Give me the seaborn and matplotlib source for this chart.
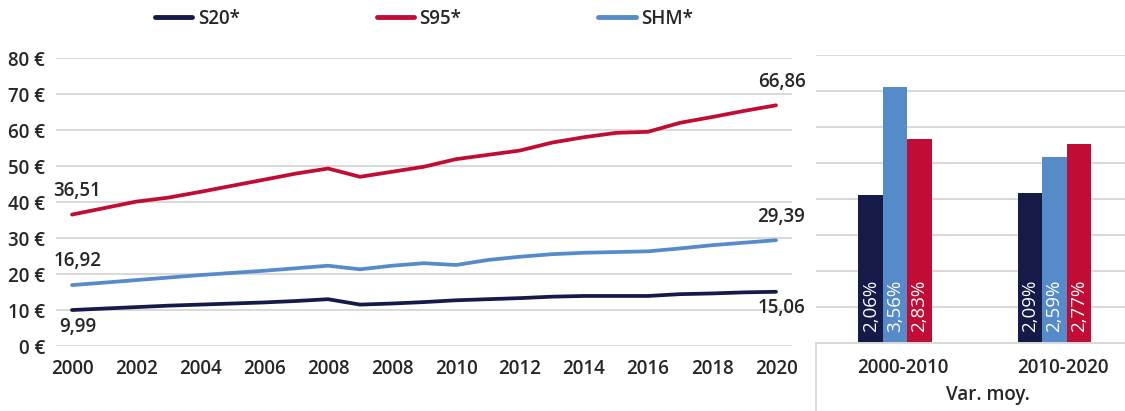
import numpy as np
import pandas as pd
import matplotlib
matplotlib.use('Agg')
import matplotlib.pyplot as plt
import seaborn as sns
from matplotlib.ticker import FuncFormatter, FixedLocator
from matplotlib.transforms import ScaledTranslation

# --- Données -----------------------------------------------------------------
# Série ancienne 2000-2009 puis nouvelle série 2008-2020 (rupture en 2008)
categories = ['2000', '2001', '2002', '2003', '2004', '2005', '2006', '2007',
              '2008', '2009', '2008', '2009', '2010', '2011', '2012', '2013',
              '2014', '2015', '2016', '2017', '2018', '2019', '2020']
s20 = [9.99, 10.4, 10.8, 11.2, 11.5, 11.8, 12.1, 12.5, 13.0, 11.5, 11.8, 12.2,
       12.7, 13.0, 13.3, 13.7, 13.9, 13.9, 13.9, 14.4, 14.6, 14.9, 15.06]
s95 = [36.51, 38.3, 40.1, 41.2, 42.8, 44.5, 46.2, 47.9, 49.3, 47.0, 48.4, 49.8,
       51.9, 53.1, 54.3, 56.5, 58.0, 59.2, 59.5, 62.0, 63.6, 65.3, 66.86]
shm = [16.92, 17.6, 18.3, 19.0, 19.7, 20.3, 20.9, 21.6, 22.3, 21.3, 22.3, 23.0,
       22.5, 23.9, 24.8, 25.5, 25.9, 26.1, 26.3, 27.1, 28.0, 28.7, 29.39]

periodes = ['2000-2010', '2010-2020']
var_s20 = [2.06, 2.09]
var_shm = [3.56, 2.59]
var_s95 = [2.83, 2.77]

couleurs = {'S20*': '#151a48', 'S95*': '#c10d35', 'SHM*': '#568bca'}
GRIS = '#d9d9d9'
TXT = '#262626'

sns.set_style('white')
plt.rcParams['font.family'] = ['Open Sans', 'DejaVu Sans']

fig = plt.figure(figsize=(11.25, 4.11), dpi=100)
ax = fig.add_axes([56 / 1125, 65 / 411, 736 / 1125, 288 / 411])
ax2 = fig.add_axes([815.5 / 1125, 68 / 411, 318.5 / 1125, 288 / 411])

# --- Graphique 1 : évolution en euros -----------------------------------------
df_lignes = pd.DataFrame({'pos': np.arange(len(categories)),
                          'S20*': s20, 'S95*': s95, 'SHM*': shm})
df_lignes = df_lignes.melt(id_vars='pos', var_name='serie', value_name='valeur')

sns.lineplot(data=df_lignes, x='pos', y='valeur', hue='serie',
             hue_order=['S20*', 'S95*', 'SHM*'], palette=couleurs,
             linewidth=2.7, solid_capstyle='round', ax=ax)
handles, labels = ax.get_legend_handles_labels()
ax.get_legend().remove()

ax.set_xlim(-0.5, len(categories) - 0.5)
ax.set_ylim(0, 80)
ax.yaxis.set_major_locator(FixedLocator(np.arange(0, 81, 10)))
ax.yaxis.set_major_formatter(FuncFormatter(lambda v, p: f"{int(v)} €"))
ax.set_xticks(np.arange(len(categories))[::2])
ax.set_xticklabels(categories[::2])
ax.grid(axis='y', color=GRIS, linewidth=1.4)
ax.set_axisbelow(True)
for s in ax.spines.values():
    s.set_visible(False)
ax.tick_params(length=0, labelsize=13.5, labelcolor=TXT)
ax.tick_params(axis='x', pad=9)
ax.tick_params(axis='y', pad=8)
for lbl in ax.get_xticklabels() + ax.get_yticklabels():
    lbl.set_fontweight('semibold')
ax.set_xlabel('')
ax.set_ylabel('')

# étiquettes début / fin de série
for serie, vals in [('S20*', s20), ('S95*', s95), ('SHM*', shm)]:
    dy = -12 if serie == 'S20*' else 17
    for i in [0, len(vals) - 1]:
        ax.annotate(f"{vals[i]:.2f}".replace('.', ','), xy=(i, vals[i]),
                    xytext=(4, dy), textcoords='offset points',
                    ha='center', va='center', fontsize=13.5,
                    fontweight='semibold', color=TXT)

leg = fig.legend(handles, labels, loc='center',
                 bbox_to_anchor=(424 / 1125, 1 - 19 / 411),
                 ncol=3, frameon=False, handlelength=2.0,
                 handletextpad=0.3, columnspacing=7.3,
                 prop={'weight': 'semibold', 'size': 13.5})
for h in leg.get_lines():
    h.set_linewidth(3.5)

# --- Graphique 2 : variation moyenne annuelle -----------------------------------
df_barres = pd.DataFrame({'periode': periodes, 'S20*': var_s20,
                          'SHM*': var_shm, 'S95*': var_s95})
df_barres = df_barres.melt(id_vars='periode', var_name='serie', value_name='var')

ordre_barres = ['S20*', 'SHM*', 'S95*']
sns.barplot(data=df_barres, x='periode', y='var', hue='serie',
            hue_order=ordre_barres, palette=couleurs, saturation=1,
            width=0.46, gap=0, linewidth=0, legend=False, ax=ax2)

for cont in ax2.containers:
    for patch in cont:
        h = patch.get_height()
        ax2.annotate(f"{h:.2f}%".replace('.', ','),
                     xy=(patch.get_x() + patch.get_width() / 2, 0),
                     xytext=(0, 8), textcoords='offset points',
                     rotation=90, ha='center', va='bottom',
                     fontsize=13.5, color='white')

ax2.set_xlim(-0.5, 1.5)
ax2.set_ylim(0, 4)
ax2.yaxis.set_major_locator(FixedLocator(np.arange(0, 4.01, 0.5)))
ax2.grid(axis='y', color=GRIS, linewidth=1.4)
ax2.set_axisbelow(True)
for s in ax2.spines.values():
    s.set_visible(False)
ax2.spines['bottom'].set_visible(True)
ax2.spines['bottom'].set_color(GRIS)
ax2.spines['bottom'].set_linewidth(1.4)
ax2.tick_params(length=0, labelsize=13.5, labelcolor=TXT)
ax2.tick_params(axis='x', pad=11)
ax2.set_yticklabels([])
ax2.set_ylabel('')
decal = ScaledTranslation(8 / 100, 0, fig.dpi_scale_trans)
for lbl in ax2.get_xticklabels():
    lbl.set_fontweight('semibold')
    lbl.set_transform(lbl.get_transform() + decal)
ax2.set_xlabel('Var. moy.', fontsize=13.5, fontweight='semibold', color=TXT, va='center')
ax2.xaxis.set_label_coords((988 - 815.5) / 318.5, -52 / 288)
ax2.plot([0, 0], [0, -0.3], transform=ax2.transAxes, clip_on=False,
         color=GRIS, linewidth=1.4)

fig.savefig('out.png', dpi=100)
